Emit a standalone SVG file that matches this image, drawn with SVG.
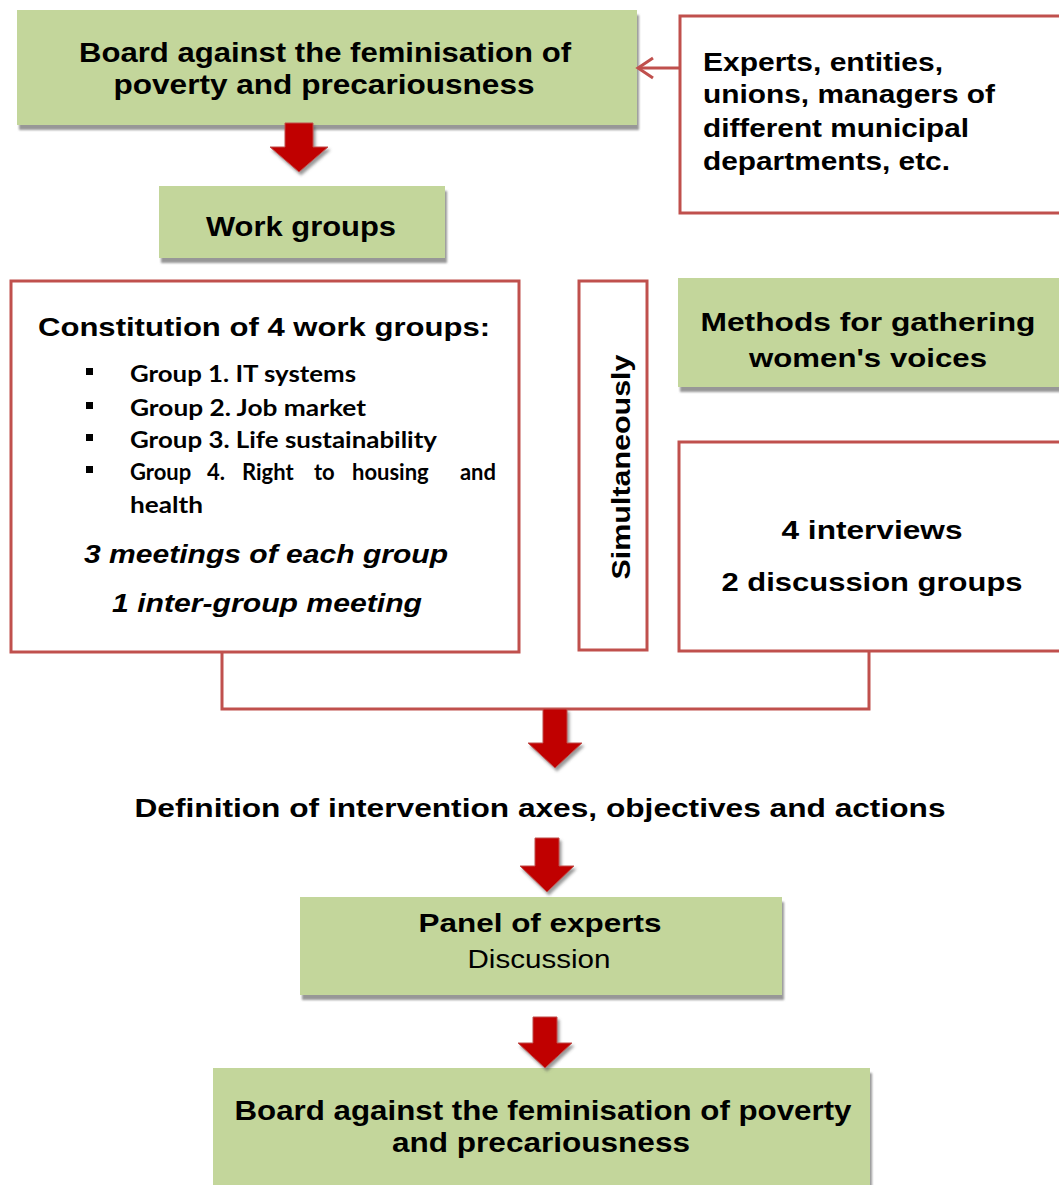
<svg xmlns="http://www.w3.org/2000/svg" width="1059" height="1185" viewBox="0 0 1059 1185">
<defs>
<filter id="sh" x="-5%" y="-5%" width="115%" height="130%">
<feDropShadow dx="2" dy="5" stdDeviation="0.8" flood-color="#8c8c8c" flood-opacity="0.9"/>
</filter>
<filter id="ash" x="-20%" y="-20%" width="150%" height="150%">
<feDropShadow dx="2" dy="3" stdDeviation="1.5" flood-color="#555" flood-opacity="0.6"/>
</filter>
<marker id="open" markerWidth="20" markerHeight="24" refX="17" refY="12" orient="auto" markerUnits="userSpaceOnUse">
<path d="M2,2 L17,12 L2,22" fill="none" stroke="#c0504d" stroke-width="3"/>
</marker>
</defs>
<style>
.green{fill:#c3d69b;filter:url(#sh)}
.red{fill:#fff;stroke:#c0504d;stroke-width:3}
.t{font-family:"Liberation Sans",Arial,sans-serif;font-weight:bold;fill:#000}
.c{text-anchor:middle}
.g{font-family:Lato,"Open Sans",sans-serif;font-weight:bold;font-size:22px;fill:#000}
.i{font-style:italic}
.blk{fill:#c00000;stroke:#c0504d;stroke-width:1;filter:url(#ash)}
.ln{fill:none;stroke:#c0504d;stroke-width:3}
</style>
<rect width="1059" height="1185" fill="#fff"/>

<g id="board-top">
<rect class="green" x="17" y="10" width="620" height="115"/>
<text class="t c" x="325" y="62" font-size="27" textLength="492" lengthAdjust="spacingAndGlyphs">Board against the feminisation of</text>
<text class="t c" x="324" y="94" font-size="27" textLength="421" lengthAdjust="spacingAndGlyphs">poverty and precariousness</text>
</g>

<g id="experts">
<rect class="red" x="680" y="16" width="392" height="197"/>
<text class="t" x="703" y="71" font-size="26" textLength="240" lengthAdjust="spacingAndGlyphs">Experts, entities,</text>
<text class="t" x="703" y="103" font-size="26" textLength="292" lengthAdjust="spacingAndGlyphs">unions, managers of</text>
<text class="t" x="703" y="137" font-size="26" textLength="266" lengthAdjust="spacingAndGlyphs">different municipal</text>
<text class="t" x="703" y="170" font-size="26" textLength="247" lengthAdjust="spacingAndGlyphs">departments, etc.</text>
</g>

<g id="work-groups">
<rect class="green" x="159" y="186" width="286" height="72"/>
<text class="t c" x="301" y="236" font-size="27" textLength="190" lengthAdjust="spacingAndGlyphs">Work groups</text>
</g>

<g id="constitution">
<rect class="red" x="11" y="281" width="508" height="371"/>
<text class="t c" x="264" y="336" font-size="25" textLength="452" lengthAdjust="spacingAndGlyphs">Constitution of 4 work groups:</text>
<rect x="86" y="368" width="7" height="7"/>
<rect x="86" y="402" width="7" height="7"/>
<rect x="86" y="434" width="7" height="7"/>
<rect x="86" y="466" width="7" height="7"/>
<text class="g" x="130" y="382" textLength="226" lengthAdjust="spacingAndGlyphs">Group 1. IT systems</text>
<text class="g" x="130" y="416" textLength="236" lengthAdjust="spacingAndGlyphs">Group 2. Job market</text>
<text class="g" x="130" y="448" textLength="307" lengthAdjust="spacingAndGlyphs">Group 3. Life sustainability</text>
<text class="g" x="130" y="480">Group</text>
<text class="g" x="207" y="480">4.</text>
<text class="g" x="242" y="480">Right</text>
<text class="g" x="314" y="480">to</text>
<text class="g" x="352" y="480">housing</text>
<text class="g" x="496" y="480" text-anchor="end">and</text>
<text class="g" x="130" y="513" textLength="73" lengthAdjust="spacingAndGlyphs">health</text>
<text class="t c i" x="266" y="563" font-size="26" textLength="364" lengthAdjust="spacingAndGlyphs">3 meetings of each group</text>
<text class="t c i" x="267" y="612" font-size="26" textLength="310" lengthAdjust="spacingAndGlyphs">1 inter-group meeting</text>
</g>

<g id="simultaneously">
<rect class="red" x="579" y="281" width="68" height="369"/>
<text class="t c" transform="translate(630,467) rotate(-90)" font-size="26" textLength="225" lengthAdjust="spacingAndGlyphs">Simultaneously</text>
</g>

<g id="methods">
<rect class="green" x="678" y="278" width="395" height="109"/>
<text class="t c" x="868" y="331" font-size="26" textLength="335" lengthAdjust="spacingAndGlyphs">Methods for gathering</text>
<text class="t c" x="868" y="367" font-size="26" textLength="238" lengthAdjust="spacingAndGlyphs">women's voices</text>
</g>

<g id="interviews">
<rect class="red" x="679" y="442" width="392" height="209"/>
<text class="t c" x="872" y="539" font-size="26" textLength="181" lengthAdjust="spacingAndGlyphs">4 interviews</text>
<text class="t c" x="872" y="591" font-size="26" textLength="301" lengthAdjust="spacingAndGlyphs">2 discussion groups</text>
</g>

<g id="definition">
<text class="t c" x="540" y="817" font-size="26" textLength="811" lengthAdjust="spacingAndGlyphs">Definition of intervention axes, objectives and actions</text>
</g>

<g id="panel">
<rect class="green" x="300" y="897" width="482" height="98"/>
<text class="t c" x="540" y="932" font-size="26" textLength="243" lengthAdjust="spacingAndGlyphs">Panel of experts</text>
<text x="539" y="968" font-family="Liberation Sans, Arial, sans-serif" font-size="26" text-anchor="middle" textLength="143" lengthAdjust="spacingAndGlyphs">Discussion</text>
</g>

<g id="board-bottom">
<rect class="green" x="213" y="1068" width="657" height="125"/>
<text class="t c" x="543" y="1120" font-size="27" textLength="617" lengthAdjust="spacingAndGlyphs">Board against the feminisation of poverty</text>
<text class="t c" x="541" y="1152" font-size="27" textLength="298" lengthAdjust="spacingAndGlyphs">and precariousness</text>
</g>

<g id="connectors">
<line class="ln" x1="680" y1="68" x2="638" y2="68" marker-end="url(#open)"/>
<polyline class="ln" points="222,652 222,709 869,709 869,651"/>
<polygon class="blk" points="285,123 313,123 313,147 328,147 299,172 270,147 285,147"/>
<polygon class="blk" points="543,709 567,709 567,743 582,743 555,768 528,743 543,743"/>
<polygon class="blk" points="535,838 559,838 559,866 574,866 547,892 520,866 535,866"/>
<polygon class="blk" points="533,1017 557,1017 557,1043 572,1043 545,1068 518,1043 533,1043"/>
</g>
</svg>
